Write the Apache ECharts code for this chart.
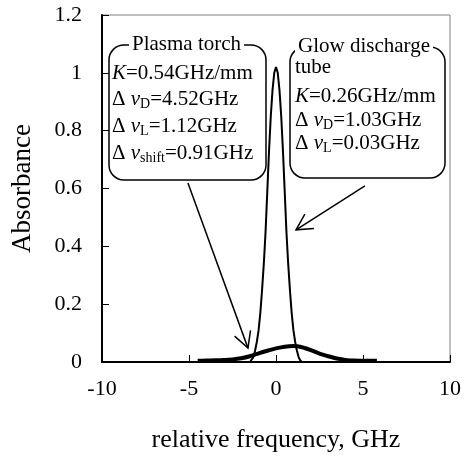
<!DOCTYPE html>
<html><head><meta charset="utf-8">
<script src="https://cdn.jsdelivr.net/npm/echarts@6/dist/echarts.min.js"></script>
<style>html,body{margin:0;padding:0;background:#fff}#c{width:466px;height:466px}</style>
</head><body><div id="c"></div>
<script>
// ---- data ----
const glowX = [-1.5,-1.4,-1.3,-1.2,-1.1,-1.0,-0.9,-0.8,-0.7,-0.6,-0.5,-0.4,-0.3,-0.2,-0.1,0,0.1,0.2,0.3,0.4,0.5,0.6,0.7,0.8,0.9,1.0,1.1,1.2,1.3,1.4,1.5];
const glowY = [0,0.005,0.017,0.04,0.07,0.11,0.17,0.25,0.34,0.45,0.59,0.73,0.85,0.94,1.0,1.02,1.0,0.94,0.85,0.73,0.59,0.45,0.34,0.25,0.17,0.11,0.07,0.04,0.017,0.005,0];
const plasmaX = [-4.5,-4,-3.5,-3,-2.5,-2,-1.5,-1,-0.5,0,0.5,1,1.5,2,2.5,3,3.5,4,4.5,5,5.5,5.8];
const plasmaY = [0.004,0.005,0.006,0.007,0.009,0.013,0.02,0.03,0.039,0.047,0.053,0.055,0.051,0.041,0.029,0.02,0.012,0.007,0.005,0.004,0.004,0.004];
const xRange = [-10, 10, 5];
const yRange = [0, 1.2, 0.2];

const FONT = '"Liberation Serif", "Times New Roman", serif';
const chart = echarts.init(document.getElementById('c'), null, {renderer: 'canvas'});

const axisCommon = {
  axisLine: {show: true, onZero: false, lineStyle: {color: '#000', width: 2}},
  axisTick: {inside: true, length: 7, lineStyle: {color: '#000', width: 1}},
  splitLine: {show: false}
};

chart.setOption({
  animation: false,
  backgroundColor: '#fff',
  grid: {left: 102, right: 16, top: 15, bottom: 104, show: true, borderColor: '#808080', borderWidth: 1},
  xAxis: Object.assign({
    type: 'value', min: xRange[0], max: xRange[1], interval: xRange[2],
    axisLabel: {color: '#000', fontFamily: FONT, fontSize: 22, margin: 16},
    name: 'relative frequency, GHz', nameLocation: 'middle', nameGap: 65,
    nameTextStyle: {color: '#000', fontFamily: FONT, fontSize: 26}
  }, axisCommon),
  yAxis: Object.assign({
    type: 'value', min: yRange[0], max: yRange[1], interval: yRange[2],
    axisLabel: {color: '#000', fontFamily: FONT, fontSize: 22, margin: 20},
    name: 'Absorbance', nameLocation: 'middle', nameGap: 66, nameRotate: 90,
    nameTextStyle: {color: '#000', fontFamily: FONT, fontSize: 27}
  }, axisCommon),
  series: [
    {type: 'line', data: glowX.map((x, i) => [x, glowY[i]]), symbol: 'none',
     lineStyle: {color: '#000', width: 2}, z: 2},
    {type: 'line', data: plasmaX.map((x, i) => [x, plasmaY[i]]), symbol: 'none', smooth: 0.2,
     lineStyle: {color: '#000', width: 4}, z: 3}
  ]
});

// ---- annotations ----
const toPx = (x, y) => chart.convertToPixel({gridIndex: 0}, [x, y]);
const arrowDefs = [[-5.06, 0.619, -1.61, 0.048], [5.11, 0.609, 1.15, 0.457]];
const g = [];
arrowDefs.forEach(a => {
  const s = toPx(a[0], a[1]), t = toPx(a[2], a[3]);
  const ang = Math.atan2(s[1] - t[1], s[0] - t[0]);
  const L = 18, d = 28 * Math.PI / 180;
  const w1 = [t[0] + L * Math.cos(ang + d), t[1] + L * Math.sin(ang + d)];
  const w2 = [t[0] + L * Math.cos(ang - d), t[1] + L * Math.sin(ang - d)];
  g.push({type: 'line', shape: {x1: s[0], y1: s[1], x2: t[0], y2: t[1]}, style: {stroke: '#000', lineWidth: 1.5}, z: 10});
  g.push({type: 'polyline', shape: {points: [w1, t, w2]}, style: {stroke: '#000', lineWidth: 1.5, fill: null}, z: 10});
});

g.push({type: 'rect', shape: {x: 109, y: 45, width: 157, height: 135, r: 15}, style: {fill: null, stroke: '#000', lineWidth: 1.5}, z: 11});
g.push({type: 'rect', shape: {x: 290, y: 47, width: 155, height: 131, r: 15}, style: {fill: null, stroke: '#000', lineWidth: 1.5}, z: 11});

const rich = {
  i: {fontStyle: 'italic', fontFamily: FONT, fontSize: 21, fill: '#000', lineHeight: 24},
  s: {fontFamily: FONT, fontSize: 14, fill: '#000', lineHeight: 14, verticalAlign: 'bottom'}
};
function txt(x, y, text, bg) {
  const st = {text: text, x: x, y: y, fill: '#000', fontFamily: FONT, fontSize: 21, lineHeight: 24,
              align: 'left', verticalAlign: 'middle', rich: rich};
  if (bg) { st.backgroundColor = '#fff'; st.padding = [0, 3]; }
  g.push({type: 'text', style: st, z: 12});
}
txt(129, 44.7, 'Plasma torch', true);
txt(112, 73.7, '{i|K}=0.54GHz/mm');
txt(112, 99.7, 'Δ {i|ν}{s|D}=4.52GHz');
txt(112, 126.3, 'Δ {i|ν}{s|L}=1.12GHz');
txt(112, 153, 'Δ {i|ν}{s|shift}=0.91GHz');

txt(295, 46, 'Glow discharge', true);
txt(295, 67, 'tube');
txt(295, 96, '{i|K}=0.26GHz/mm');
txt(295, 120, 'Δ {i|ν}{s|D}=1.03GHz');
txt(295, 143, 'Δ {i|ν}{s|L}=0.03GHz');

chart.setOption({graphic: {elements: g}});
</script></body></html>
